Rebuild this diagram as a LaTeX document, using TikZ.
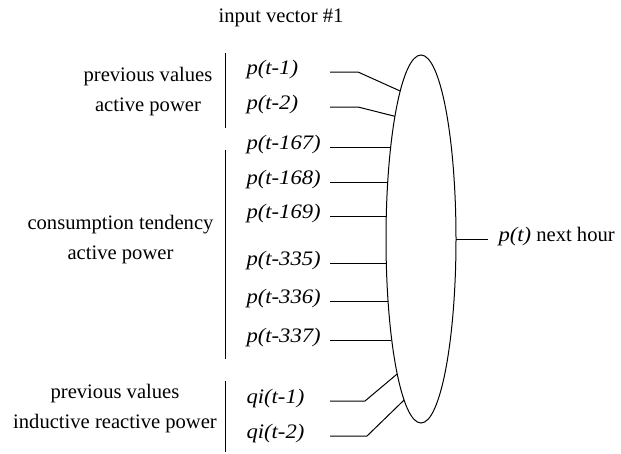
\documentclass[tikz,border=0pt]{standalone}
\usepackage{fontspec}
\setmainfont{Liberation Serif}
\newfontfamily\itlab{Liberation Serif}[FakeStretch=1.1]
\usetikzlibrary{shapes.geometric}
\begin{document}
\begin{tikzpicture}[x=1pt,y=-1pt,line width=1pt,
  txt/.style={inner sep=0pt,font=\fontsize{20.6}{30}\selectfont,align=center},
  lab/.style={inner sep=0pt,anchor=mid west,font=\fontsize{20.6}{30}\selectfont\itlab\itshape},
  wire/.style={line width=1pt},
  bar/.style={line width=1pt}]
\useasboundingbox (0,0) rectangle (621,453);
% title
\node[txt] (title) at (281,18) {input vector \#1};
% neuron
\node[draw,ellipse,minimum width=70pt,minimum height=368pt,inner sep=0pt,outer sep=0pt,line width=1pt] (ell) at (421,239) {};
% group labels
\node[txt] (g1) at (148,91.5) {previous values\\active power};
\node[txt] (g2) at (120.5,240) {consumption tendency\\active power};
\node[txt] (g3) at (115,409) {previous values\\inductive reactive power};
% brackets
\coordinate (b1t) at (225,53);  \coordinate (b1b) at (225,128);
\coordinate (b2t) at (225,150); \coordinate (b2b) at (225,359);
\coordinate (b3t) at (225,381); \coordinate (b3b) at (225,452);
\draw[bar] (b1t) -- (b1b);
\draw[bar] (b2t) -- (b2b);
\draw[bar] (b3t) -- (b3b);
% input labels
\node[lab] (i1) at (246,72) {p(t-1)};
\node[lab] (i2) at (246,107) {p(t-2)};
\node[lab] (i3) at (246,147) {p(t-167)};
\node[lab] (i4) at (246,182) {p(t-168)};
\node[lab] (i5) at (246,216) {p(t-169)};
\node[lab] (i6) at (246,263) {p(t-335)};
\node[lab] (i7) at (246,301) {p(t-336)};
\node[lab] (i8) at (246,340) {p(t-337)};
\node[lab] (i9) at (246,401) {qi(t-1)};
\node[lab] (i10) at (246,436) {qi(t-2)};
% wire starts
\coordinate (s1) at (330,72);   \coordinate (k1) at (358,72);
\coordinate (s2) at (330,107);  \coordinate (k2) at (358,107);
\coordinate (s3) at (330,147);
\coordinate (s4) at (330,182);
\coordinate (s5) at (330,216);
\coordinate (s6) at (330,263);
\coordinate (s7) at (330,301);
\coordinate (s8) at (330,340);
\coordinate (s9) at (330,401);  \coordinate (k9) at (365,401);
\coordinate (s10) at (330,436); \coordinate (k10) at (367,436);
\draw[wire] (s1) -- (k1) -- (ell.98.6);
\draw[wire] (s2) -- (k2) -- (ell.102.45);
\draw[wire] (s3) -- (s3 -| ell.108.2);
\draw[wire] (s4) -- (s4 -| ell.120.3);
\draw[wire] (s5) -- (s5 -| ell.146.5);
\draw[wire] (s6) -- (s6 -| ell.214.7);
\draw[wire] (s7) -- (s7 -| ell.242);
\draw[wire] (s8) -- (s8 -| ell.253.8);
\draw[wire] (s9) -- (k9) -- (ell.260.9);
\draw[wire] (s10) -- (k10) -- (ell.264.3);
% output
\coordinate (oe) at (488,239);
\draw[wire] (ell.east) -- (oe);
\node[inner sep=0pt,anchor=mid west,font=\fontsize{20.6}{30}\selectfont] (out) at (498,239) {{\itlab\itshape p(t)} next hour};
\end{tikzpicture}
\end{document}
